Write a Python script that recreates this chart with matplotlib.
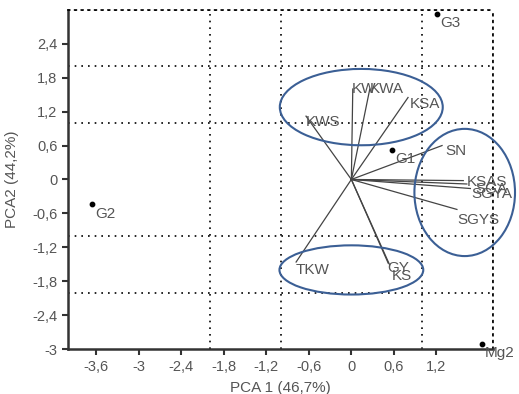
import matplotlib
matplotlib.use("Agg")
import matplotlib.pyplot as plt
import matplotlib.ticker as ticker
from matplotlib.patches import Ellipse
import numpy as np

# genotype scores
genotypes = ["G1", "G2", "G3", "Mg2"]
geno_x = [0.58, -3.66, 1.21, 1.84]
geno_y = [0.53, -0.44, 2.93, -2.91]

# trait loadings (vectors from origin)
traits = ["KWS", "KW", "KWA", "KSA", "SN", "KSAS", "SGA", "SGYA", "SGYS", "TKW", "GY", "KS"]
trait_x = [-0.64, 0.02, 0.26, 0.80, 1.28, 1.58, 1.63, 1.68, 1.49, -0.78, 0.54, 0.52]
trait_y = [1.12, 1.60, 1.60, 1.45, 0.60, -0.02, -0.08, -0.16, -0.53, -1.46, -1.51, -1.48]

# grouping ellipses: centre x, centre y, width, height
ell_cx = [0.14, 1.60, 0.00]
ell_cy = [1.28, -0.23, -1.60]
ell_w = [2.30, 1.42, 2.03]
ell_h = [1.35, 2.25, 0.87]

xticks = [-3.6, -3.0, -2.4, -1.8, -1.2, -0.6, 0.0, 0.6, 1.2]
yticks = [-3.0, -2.4, -1.8, -1.2, -0.6, 0.0, 0.6, 1.2, 1.8, 2.4]

plt.rcParams["font.family"] = ["Liberation Sans", "DejaVu Sans"]
TXT = "#555555"
FS = 11

fig = plt.figure(figsize=(5.19, 3.94), dpi=100)
ax = fig.add_axes([0.131, 0.114, 0.819, 0.861])
ax.set_xlim(-4.0, 2.0)
ax.set_ylim(-3.0, 3.0)

# dotted grid at integer positions
ax.xaxis.set_minor_locator(ticker.MultipleLocator(1.0))
ax.yaxis.set_minor_locator(ticker.MultipleLocator(1.0))
ax.grid(which="minor", color="black", linestyle=(0, (1, 3)), linewidth=1.2)
ax.grid(which="major", visible=False)
ax.tick_params(which="minor", length=0)

ax.set_xticks(xticks)
ax.set_yticks(yticks)
fmt = ticker.FuncFormatter(lambda v, _: ("%g" % round(v, 1)).replace(".", ","))
ax.xaxis.set_major_formatter(fmt)
ax.yaxis.set_major_formatter(fmt)
ax.tick_params(which="major", direction="out", length=4, width=1.5,
               labelsize=10.5, labelcolor=TXT, color="#333333")

for s in ["left", "bottom"]:
    ax.spines[s].set_linewidth(1.8)
    ax.spines[s].set_color("#333333")
for s in ["top", "right"]:
    ax.spines[s].set_linestyle((0, (1, 3)))
    ax.spines[s].set_linewidth(1.2)

# trait vectors
for name, tx, ty in zip(traits, trait_x, trait_y):
    ax.plot([0, tx], [0, ty], color="#444444", linewidth=0.9, zorder=3)

label_off = {
    "KWS": (0.0, -0.1), "KW": (-0.02, 0.0), "KWA": (0.0, 0.0),
    "KSA": (0.02, -0.12), "SN": (0.05, -0.1),
    "KSAS": (0.05, -0.02), "SGA": (0.12, -0.08), "SGYA": (0.02, -0.1),
    "SGYS": (0.0, -0.18), "TKW": (0.0, -0.14),
    "GY": (-0.03, -0.06), "KS": (0.05, -0.22),
}
for name, tx, ty in zip(traits, trait_x, trait_y):
    dx, dy = label_off[name]
    ax.text(tx + dx, ty + dy, name, fontsize=FS, color=TXT, ha="left", va="center", zorder=4)

# genotype points
ax.scatter(geno_x, geno_y, s=10, color="black", zorder=5, clip_on=False)
for name, gx, gy in zip(genotypes, geno_x, geno_y):
    ax.text(gx + 0.04, gy - 0.04, name, fontsize=FS, color=TXT, ha="left", va="top", zorder=5)

# grouping ellipses
for cx, cy, w, h in zip(ell_cx, ell_cy, ell_w, ell_h):
    ax.add_patch(Ellipse((cx, cy), w, h, fill=False, edgecolor="#3b5f95",
                         linewidth=1.5, clip_on=False, zorder=6))

ax.set_xlabel("PCA 1 (46,7%)", fontsize=FS, color=TXT)
ax.set_ylabel("PCA2 (44,2%)", fontsize=FS, color=TXT)
ax.yaxis.set_label_coords(-0.115, 0.5)
ax.xaxis.set_label_coords(0.5, -0.095)

fig.savefig("out.png", dpi=100)
